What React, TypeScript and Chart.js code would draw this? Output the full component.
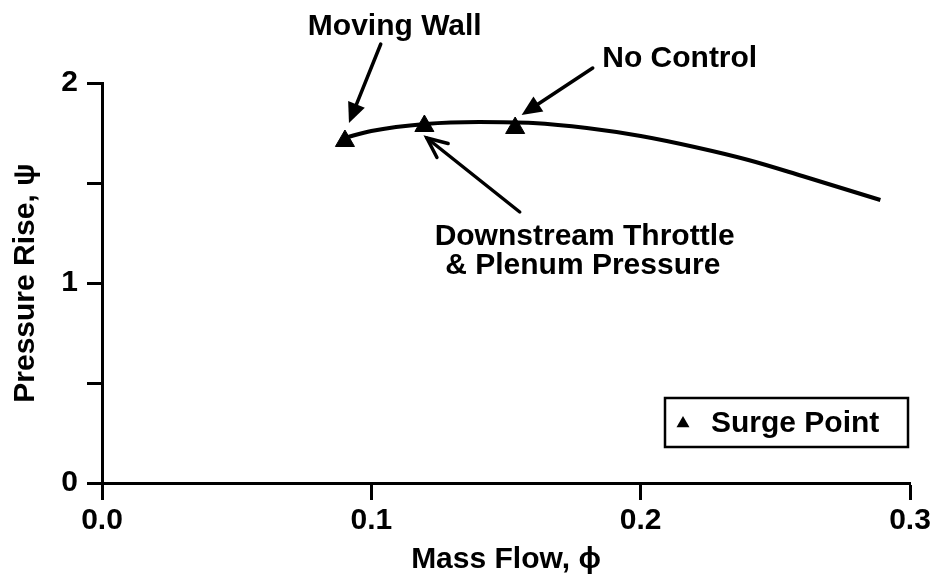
import React, { useEffect, useRef } from 'react';
import { Chart, registerables } from 'chart.js';

Chart.register(...registerables);

// Compressor characteristic (mass flow phi vs pressure rise psi)
const curvePhi = [0.090, 0.100, 0.120, 0.140, 0.160, 0.180, 0.200, 0.220, 0.240, 0.260, 0.289];
const curvePsi = [1.725, 1.760, 1.795, 1.805, 1.800, 1.775, 1.735, 1.680, 1.615, 1.535, 1.415];

// Surge points: Moving Wall, Downstream Throttle & Plenum Pressure, No Control
const surgePhi = [0.0902, 0.1197, 0.1534];
const surgePsi = [1.71, 1.785, 1.775];
const surgeLabel = 'Surge Point';

const xTicks = [0, 0.1, 0.2, 0.3];
const yTicks = [0, 0.5, 1, 1.5, 2];

const xTitle = 'Mass Flow, \u03d5';
const yTitle = 'Pressure Rise, \u03c8';

// Annotation labels (data coordinates of text baseline centre)
const labelTexts = ['Moving Wall', 'No Control', 'Downstream Throttle', '& Plenum Pressure'];
const labelPhi = [0.1087, 0.2145, 0.1792, 0.1785];
const labelPsi = [2.24, 2.08, 1.19, 1.045];

// Arrows (data coordinates): from -> to
const arrowFromPhi = [0.1035, 0.1822, 0.1551];
const arrowFromPsi = [2.195, 2.075, 1.355];
const arrowToPhi = [0.0917, 0.1558, 0.1206];
const arrowToPsi = [1.80, 1.84, 1.725];
const arrowFilled = [true, true, false];

const FONT_FAMILY = '"Liberation Sans", Arial, sans-serif';

const annotationPlugin = {
  id: 'annotations',
  afterDraw(chart: any) {
    const { ctx, chartArea } = chart;
    const xs = chart.scales.x;
    const ys = chart.scales.y;
    ctx.save();
    ctx.fillStyle = '#000';
    ctx.strokeStyle = '#000';
    ctx.font = `bold 30px ${FONT_FAMILY}`;
    ctx.textAlign = 'center';
    ctx.textBaseline = 'alphabetic';
    labelTexts.forEach((t, i) => {
      ctx.fillText(t, xs.getPixelForValue(labelPhi[i]), ys.getPixelForValue(labelPsi[i]));
    });

    ctx.lineWidth = 3.5;
    ctx.lineCap = 'round';
    arrowFromPhi.forEach((_, i) => {
      const x0 = xs.getPixelForValue(arrowFromPhi[i]);
      const y0 = ys.getPixelForValue(arrowFromPsi[i]);
      const x1 = xs.getPixelForValue(arrowToPhi[i]);
      const y1 = ys.getPixelForValue(arrowToPsi[i]);
      const ang = Math.atan2(y1 - y0, x1 - x0);
      const len = 22;
      const spread = 0.42;
      const ax = x1 - len * Math.cos(ang - spread);
      const ay = y1 - len * Math.sin(ang - spread);
      const bx = x1 - len * Math.cos(ang + spread);
      const by = y1 - len * Math.sin(ang + spread);
      ctx.beginPath();
      if (arrowFilled[i]) {
        const mx = x1 - len * 0.8 * Math.cos(ang);
        const my = y1 - len * 0.8 * Math.sin(ang);
        ctx.moveTo(x0, y0);
        ctx.lineTo(mx, my);
        ctx.stroke();
        ctx.beginPath();
        ctx.moveTo(x1, y1);
        ctx.lineTo(ax, ay);
        ctx.lineTo(bx, by);
        ctx.closePath();
        ctx.fill();
      } else {
        ctx.moveTo(x0, y0);
        ctx.lineTo(x1, y1);
        ctx.stroke();
        ctx.beginPath();
        ctx.moveTo(ax, ay);
        ctx.lineTo(x1, y1);
        ctx.lineTo(bx, by);
        ctx.stroke();
      }
    });

    // Legend box
    const bx0 = chartArea.right - 245;
    const by0 = chartArea.bottom - 85;
    const bw = 243;
    const bh = 49;
    ctx.lineWidth = 2.5;
    ctx.strokeRect(bx0, by0, bw, bh);
    const tx = bx0 + 18;
    const ty = by0 + bh / 2 + 1;
    const r = 7.5;
    ctx.beginPath();
    ctx.moveTo(tx, ty - r);
    ctx.lineTo(tx + r * 0.866, ty + r * 0.5);
    ctx.lineTo(tx - r * 0.866, ty + r * 0.5);
    ctx.closePath();
    ctx.fill();
    ctx.textAlign = 'left';
    ctx.textBaseline = 'middle';
    ctx.fillText(surgeLabel, bx0 + 46, by0 + bh / 2 + 1);
    ctx.restore();
  },
};

export default function App() {
  const ref = useRef<HTMLCanvasElement | null>(null);

  useEffect(() => {
    document.body.style.margin = '0';
    const canvas = ref.current;
    if (!canvas) return;
    const tickFont = { family: FONT_FAMILY, size: 30, weight: 'bold' as const };
    const chart = new Chart(canvas, {
      type: 'line',
      data: {
        datasets: [
          {
            label: 'Characteristic',
            data: curvePhi.map((x, i) => ({ x, y: curvePsi[i] })),
            borderColor: '#000',
            borderWidth: 4,
            pointRadius: 0,
            tension: 0.4,
            cubicInterpolationMode: 'monotone',
            fill: false,
          } as any,
          {
            type: 'scatter',
            label: surgeLabel,
            data: surgePhi.map((x, i) => ({ x, y: surgePsi[i] })),
            pointStyle: 'triangle',
            pointRadius: 11,
            backgroundColor: '#000',
            borderColor: '#000',
            borderWidth: 1,
            showLine: false,
          } as any,
        ],
      },
      options: {
        responsive: false,
        animation: false,
        devicePixelRatio: 1,
        layout: { padding: { top: 83, right: 31, left: 0, bottom: 0 } },
        plugins: { legend: { display: false }, tooltip: { enabled: false } },
        scales: {
          x: {
            type: 'linear',
            min: 0,
            max: 0.3,
            afterFit(s: any) { s.height = 99; },
            afterBuildTicks(s: any) { s.ticks = xTicks.map((v) => ({ value: v })); },
            ticks: {
              callback: (v: any) => Number(v).toFixed(1),
              font: tickFont,
              color: '#000',
              padding: 3,
              maxRotation: 0,
              autoSkip: false,
            },
            grid: { drawOnChartArea: false, tickLength: 17, tickWidth: 3, color: '#000' },
            border: { color: '#000', width: 3 },
            title: { display: true, text: xTitle, font: tickFont, color: '#000', padding: { top: 0, bottom: 4 } },
          },
          y: {
            type: 'linear',
            min: 0,
            max: 2,
            afterFit(s: any) { s.width = 102; },
            afterBuildTicks(s: any) { s.ticks = yTicks.map((v) => ({ value: v })); },
            ticks: {
              callback: (v: any) => (Number.isInteger(Number(v)) ? String(v) : ''),
              font: tickFont,
              color: '#000',
              padding: 9,
              autoSkip: false,
            },
            grid: { drawOnChartArea: false, tickLength: 15, tickWidth: 3, color: '#000' },
            border: { color: '#000', width: 3 },
            title: { display: true, text: yTitle, font: tickFont, color: '#000', padding: { top: 8, bottom: 0 } },
          },
        },
      },
      plugins: [annotationPlugin],
    });
    return () => chart.destroy();
  }, []);

  return (
    <div style={{ position: 'fixed', left: 0, top: 0, width: 941, height: 582, background: '#fff' }}>
      <canvas ref={ref} width={941} height={582} style={{ width: 941, height: 582, display: 'block' }} />
    </div>
  );
}
